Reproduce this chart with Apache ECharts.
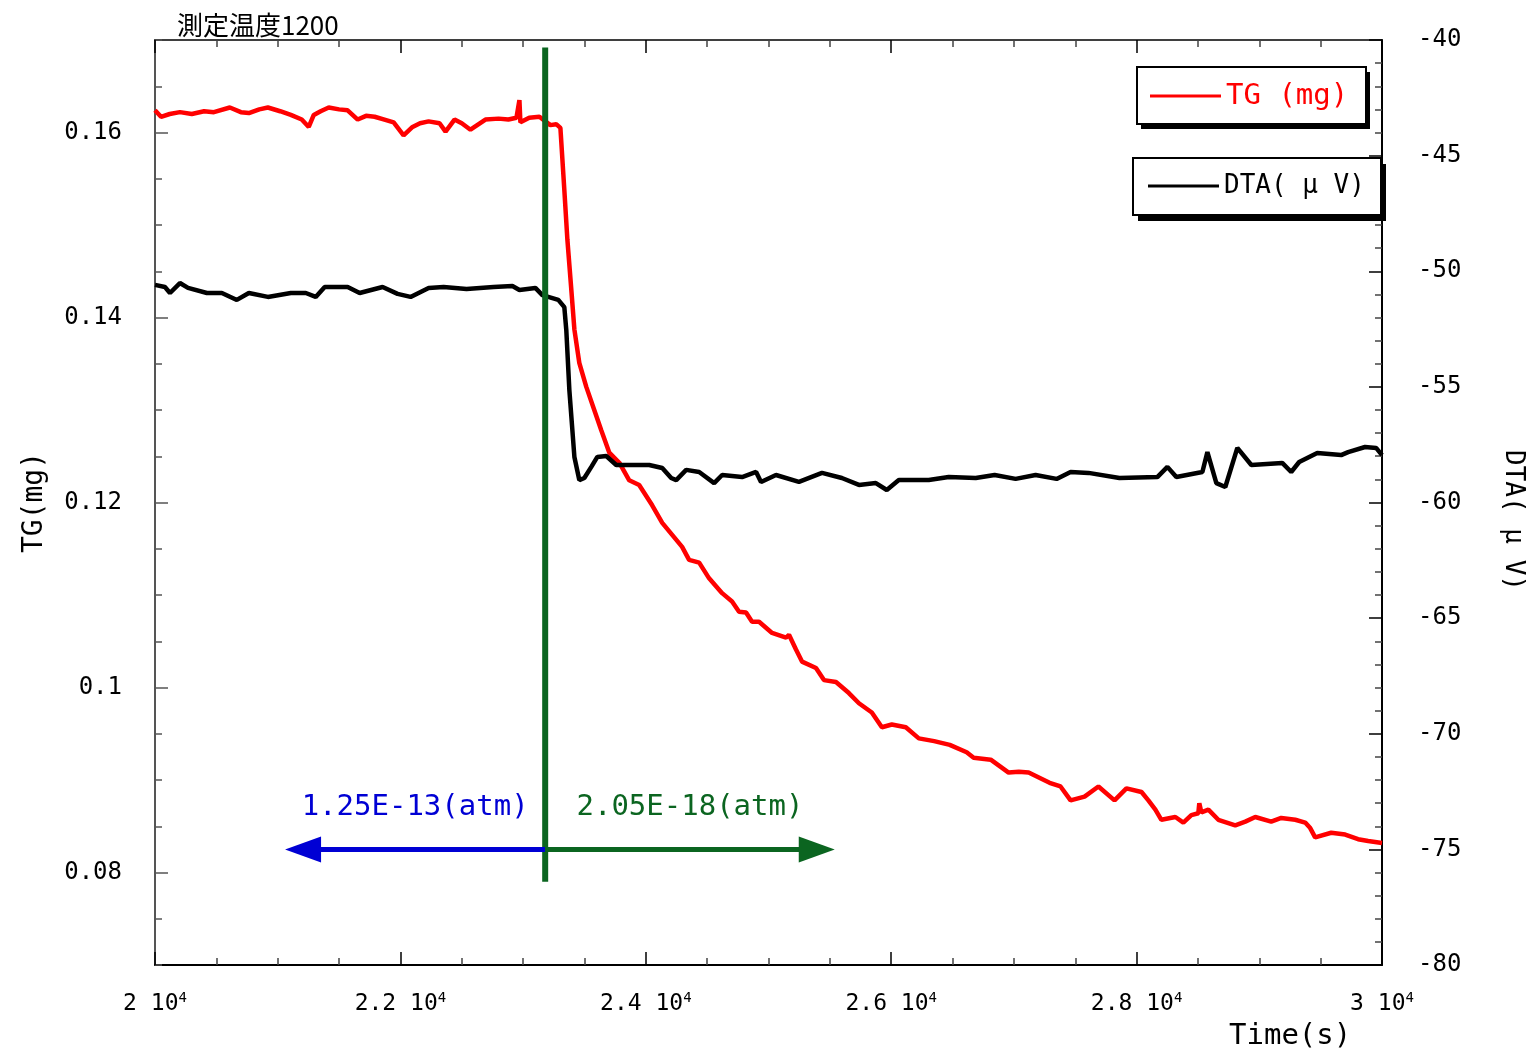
<!DOCTYPE html>
<html>
<head>
<meta charset="utf-8">
<script src="https://cdn.jsdelivr.net/npm/echarts@6/dist/echarts.min.js"></script>
<style>
  html, body { margin: 0; padding: 0; background: #ffffff; }
  #chart { width: 1534px; height: 1058px; }
</style>
</head>
<body>
<div id="chart"></div>
<script>
// ---- chart data ----
const chartTitle = '測定温度1200';
const timeAxisName = 'Time(s)';
const tgAxisName = 'TG(mg)';
const dtaAxisName = 'DTA( μ V)';
const tgSeriesName = 'TG (mg)';
const dtaSeriesName = 'DTA( μ V)';

const timeRange = [20000, 30000];
const timeStep = 2000;
const tgRange = [0.07, 0.17];
const tgTickValues = [0.08, 0.10, 0.12, 0.14, 0.16];
const tgMinorStep = 0.005;
const dtaRange = [-80, -40];
const dtaStep = 5;

// thermogravimetric signal: [time (s), mass (mg)]
const tgData = [
  [20000,0.1624],[20049,0.1617],[20120,0.1620],[20203,0.1622],[20300,0.1620],[20400,0.1623],
  [20480,0.1622],[20610,0.1627],[20700,0.1622],[20765,0.1621],[20850,0.1625],[20920,0.1627],
  [21020,0.1623],[21107,0.1619],[21196,0.1614],[21253,0.1606],[21294,0.1619],[21350,0.1623],
  [21416,0.1627],[21500,0.1625],[21570,0.1624],[21652,0.1614],[21720,0.1618],[21790,0.1617],
  [21870,0.1614],[21945,0.1611],[22026,0.1597],[22099,0.1606],[22160,0.1610],[22230,0.1612],
  [22319,0.1610],[22368,0.1601],[22441,0.1614],[22500,0.1610],[22571,0.1603],[22693,0.1614],
  [22800,0.1615],[22880,0.1614],[22946,0.1616],[22962,0.1616],[22970,0.1635],[22978,0.1611],
  [23050,0.1616],[23133,0.1617],[23222,0.1608],[23270,0.1609],[23304,0.1605],[23336,0.1538],
  [23361,0.1484],[23393,0.1430],[23418,0.1387],[23458,0.1351],[23515,0.1325],[23580,0.1300],
  [23637,0.1278],[23702,0.1254],[23784,0.1243],[23865,0.1224],[23946,0.1219],[24052,0.1197],
  [24134,0.1178],[24215,0.1165],[24296,0.1152],[24353,0.1138],[24435,0.1135],[24516,0.1118],
  [24622,0.1102],[24703,0.1093],[24760,0.1082],[24817,0.1081],[24866,0.1071],[24923,0.1071],
  [25029,0.1059],[25143,0.1054],[25167,0.1057],[25224,0.1041],[25273,0.1028],[25387,0.1021],
  [25452,0.1008],[25550,0.1006],[25655,0.0994],[25737,0.0983],[25842,0.0973],[25924,0.0957],
  [26005,0.0960],[26119,0.0957],[26225,0.0945],[26350,0.0942],[26477,0.0938],[26615,0.0930],
  [26672,0.0924],[26811,0.0922],[26957,0.0908],[27040,0.0909],[27120,0.0908],[27291,0.0897],
  [27380,0.0893],[27462,0.0878],[27576,0.0882],[27689,0.0893],[27820,0.0878],[27917,0.0891],
  [28040,0.0887],[28096,0.0878],[28153,0.0868],[28202,0.0857],[28316,0.0860],[28381,0.0854],
  [28446,0.0862],[28503,0.0864],[28511,0.0875],[28528,0.0865],[28585,0.0868],[28666,0.0857],
  [28804,0.0851],[28886,0.0855],[28967,0.0860],[29097,0.0855],[29179,0.0859],[29293,0.0857],
  [29374,0.0854],[29415,0.0848],[29455,0.0838],[29586,0.0843],[29700,0.0841],[29805,0.0836],
  [29887,0.0834],[30000,0.0832]
];

// differential thermal signal: [time (s), µV]
const dtaData = [
  [20000,-50.59],[20081,-50.68],[20122,-50.94],[20203,-50.51],[20269,-50.72],[20423,-50.94],
  [20545,-50.94],[20667,-51.24],[20765,-50.94],[20920,-51.11],[21107,-50.94],[21229,-50.94],
  [21310,-51.11],[21383,-50.68],[21570,-50.68],[21668,-50.94],[21855,-50.68],[21977,-50.98],
  [22083,-51.11],[22230,-50.72],[22352,-50.68],[22539,-50.77],[22759,-50.68],[22913,-50.64],
  [22970,-50.81],[23100,-50.72],[23157,-51.03],[23287,-51.24],[23336,-51.55],[23352,-52.54],
  [23377,-55.14],[23418,-58.03],[23458,-59.03],[23499,-58.94],[23556,-58.46],[23605,-58.03],
  [23678,-57.99],[23759,-58.38],[23865,-58.38],[24028,-58.38],[24134,-58.51],[24207,-58.94],
  [24248,-59.03],[24329,-58.59],[24435,-58.68],[24557,-59.16],[24622,-58.81],[24785,-58.90],
  [24899,-58.68],[24939,-59.11],[25061,-58.81],[25248,-59.11],[25436,-58.72],[25598,-58.94],
  [25737,-59.24],[25875,-59.16],[25964,-59.46],[26062,-59.03],[26306,-59.03],[26469,-58.90],
  [26689,-58.94],[26843,-58.81],[27014,-58.98],[27177,-58.81],[27348,-58.98],[27462,-58.68],
  [27608,-58.72],[27860,-58.94],[28169,-58.90],[28251,-58.46],[28324,-58.90],[28536,-58.68],
  [28577,-57.82],[28650,-59.16],[28723,-59.33],[28821,-57.64],[28935,-58.38],[29187,-58.29],
  [29260,-58.68],[29325,-58.25],[29472,-57.86],[29667,-57.95],[29724,-57.82],[29862,-57.60],
  [29952,-57.64],[30000,-57.95]
];

// atmosphere switch marker and the two oxygen partial pressures
const switchTime = 23180;
const switchSpanTG = [0.1692, 0.0790];
const arrowLevelTG = 0.0825;
const arrowTipTimes = [21060, 25540];
const pressureLabels = ['1.25E-13(atm)', '2.05E-18(atm)'];

// ---- styling ----
const MONO = '"DejaVu Sans Mono", "Liberation Mono", monospace';
const RED = '#ff0000';
const BLUE = '#0000d4';
const GREEN = '#0b6520';
const HEAD_LEN = 36;   // arrow head length in px
const HEAD_WIDTH = 26; // arrow head width in px

const chart = echarts.init(document.getElementById('chart'), null, { renderer: 'canvas' });

function shaftSeries(endTime, color) {
  return {
    type: 'line', xAxisIndex: 0, yAxisIndex: 0,
    silent: true, z: 6, showSymbol: false, symbol: 'none',
    lineStyle: { color: color, width: 5, cap: 'butt' },
    data: [[switchTime, arrowLevelTG], [endTime, arrowLevelTG]]
  };
}

function headSeries(tipTime, color, pointLeft) {
  return {
    type: 'scatter', xAxisIndex: 0, yAxisIndex: 0,
    silent: true, z: 7,
    symbol: 'triangle',
    symbolSize: [HEAD_WIDTH, HEAD_LEN],
    symbolRotate: pointLeft ? 90 : -90,
    symbolOffset: [pointLeft ? HEAD_LEN / 2 : -HEAD_LEN / 2, 0],
    itemStyle: { color: color, opacity: 1 },
    data: [[tipTime, arrowLevelTG]]
  };
}

function pressureLabelSeries(tipTime, text, color) {
  return {
    type: 'scatter', xAxisIndex: 0, yAxisIndex: 0,
    silent: true, z: 8,
    symbol: 'circle', symbolSize: 0,
    itemStyle: { color: color, opacity: 1 },
    label: {
      show: true, position: 'top', distance: 27,
      formatter: text,
      color: color, opacity: 1, fontFamily: MONO, fontSize: 29
    },
    data: [[(switchTime + tipTime) / 2, arrowLevelTG]]
  };
}

const tickCommon = {
  axisLine: { show: true, onZero: false, lineStyle: { color: '#000', width: 2 } },
  axisTick: { show: true, inside: true, length: 13, lineStyle: { color: '#000', width: 1.5 } },
  minorTick: { show: false },
  splitLine: { show: false }
};

// framed legend boxes with a solid offset shadow
function legendBox(x, y, w, h, dx, dy) {
  return [
    { type: 'rect', z: 1, shape: { x: x + dx, y: y + dy, width: w, height: h }, style: { fill: '#000' } },
    { type: 'rect', z: 2, shape: { x: x, y: y, width: w, height: h }, style: { fill: '#fff', stroke: '#000', lineWidth: 2 } }
  ];
}

const legendCommon = {
  orient: 'horizontal', selectedMode: false, z: 10,
  icon: 'rect', itemWidth: 71, itemHeight: 3, itemGap: 0, padding: 0
};

const option = {
  animation: false,
  backgroundColor: '#ffffff',
  grid: { left: 155, right: 150, top: 40, bottom: 93, containLabel: false },
  title: [
    {
      text: chartTitle, left: 172, top: 7,
      textStyle: { fontFamily: '"Noto Sans CJK JP", sans-serif', fontSize: 26, fontWeight: 'normal', color: '#000' }
    },
    {
      text: timeAxisName, left: 1224, top: 1017,
      textStyle: { fontFamily: MONO, fontSize: 29, fontWeight: 'normal', color: '#000' }
    }
  ],
  graphic: {
    elements: [].concat(
      legendBox(1137, 67, 229, 57, 4, 5),
      legendBox(1133, 158, 248, 57, 5, 6)
    )
  },
  legend: [
    Object.assign({}, legendCommon, {
      data: [tgSeriesName], left: 1150, top: 80,
      textStyle: { color: RED, fontFamily: MONO, fontSize: 29, lineHeight: 32 }
    }),
    Object.assign({}, legendCommon, {
      data: [dtaSeriesName], left: 1148, top: 170,
      textStyle: { color: '#000', fontFamily: MONO, fontSize: 26, lineHeight: 32 }
    })
  ],
  xAxis: [
    Object.assign({}, tickCommon, {
      type: 'value', position: 'bottom',
      min: timeRange[0], max: timeRange[1], interval: timeStep,
      minorTick: { show: true, splitNumber: 4, length: 7, lineStyle: { color: '#444', width: 1.5 } },
      axisLabel: {
        margin: 26,
        formatter: v => `{m|${+(v / 10000).toFixed(1)} }{b|10}{s|4}`,
        rich: {
          m: { fontFamily: MONO, fontSize: 23, color: '#000' },
          b: { fontFamily: MONO, fontSize: 23, color: '#000' },
          s: { fontFamily: MONO, fontSize: 14, color: '#000', padding: [0, 0, 12, 0] }
        }
      }
    }),
    Object.assign({}, tickCommon, {
      type: 'value', position: 'top',
      min: timeRange[0], max: timeRange[1], interval: timeStep,
      axisLine: { show: true, onZero: false, lineStyle: { color: '#000', width: 1.5 } },
      minorTick: { show: true, splitNumber: 4, length: 7, lineStyle: { color: '#444', width: 1.5 } },
      axisLabel: { show: false }
    })
  ],
  yAxis: [
    Object.assign({}, tickCommon, {
      type: 'value', position: 'left',
      min: tgRange[0], max: tgRange[1],
      axisLine: { show: true, onZero: false, lineStyle: { color: '#555', width: 2 } },
      axisTick: { show: true, inside: true, length: 13, customValues: tgTickValues, lineStyle: { color: '#555', width: 1.5 } },
      axisLabel: {
        customValues: tgTickValues, margin: 33,
        formatter: v => String(+(+v).toFixed(2)),
        fontFamily: MONO, fontSize: 24, color: '#000'
      },
      name: tgAxisName, nameLocation: 'middle', nameGap: 106, nameRotate: 90,
      nameTextStyle: { fontFamily: MONO, fontSize: 28, color: '#000' }
    }),
    Object.assign({}, tickCommon, {
      type: 'value', position: 'left',
      min: tgRange[0], max: tgRange[1], interval: tgMinorStep,
      axisLine: { show: false },
      axisTick: { show: true, inside: true, length: 7, lineStyle: { color: '#555', width: 1.5 } },
      axisLabel: { show: false }
    }),
    Object.assign({}, tickCommon, {
      type: 'value', position: 'right',
      min: dtaRange[0], max: dtaRange[1], interval: dtaStep,
      minorTick: { show: true, splitNumber: 5, length: 7, lineStyle: { color: '#444', width: 1.5 } },
      axisLabel: { margin: 36, fontFamily: MONO, fontSize: 24, color: '#000' },
      name: dtaAxisName, nameLocation: 'middle', nameGap: 118, nameRotate: -90,
      nameTextStyle: { fontFamily: MONO, fontSize: 26, color: '#000', padding: [0, 0, 0, 36] }
    })
  ],
  series: [
    {
      name: tgSeriesName, type: 'line',
      xAxisIndex: 0, yAxisIndex: 0,
      showSymbol: false, symbol: 'none', z: 3,
      lineStyle: { color: RED, width: 4.5 },
      itemStyle: { color: RED },
      data: tgData
    },
    {
      name: dtaSeriesName, type: 'line',
      xAxisIndex: 0, yAxisIndex: 2,
      showSymbol: false, symbol: 'none', z: 3,
      lineStyle: { color: '#000', width: 4.5 },
      itemStyle: { color: '#000' },
      data: dtaData
    },
    {
      type: 'line', xAxisIndex: 0, yAxisIndex: 0,
      silent: true, z: 5, showSymbol: false, symbol: 'none',
      lineStyle: { color: GREEN, width: 6, cap: 'butt' },
      data: switchSpanTG.map(v => [switchTime, v])
    },
    shaftSeries(arrowTipTimes[0], BLUE),
    shaftSeries(arrowTipTimes[1], GREEN),
    headSeries(arrowTipTimes[0], BLUE, true),
    headSeries(arrowTipTimes[1], GREEN, false),
    pressureLabelSeries(arrowTipTimes[0], pressureLabels[0], BLUE),
    pressureLabelSeries(arrowTipTimes[1], pressureLabels[1], GREEN)
  ]
};

chart.setOption(option);

// stop each shaft at the middle of its arrow head so the tip stays sharp
const finder = { xAxisIndex: 0, yAxisIndex: 0 };
const shaftEnds = arrowTipTimes.map((tip, i) => {
  const p = chart.convertToPixel(finder, [tip, arrowLevelTG]);
  const dir = i === 0 ? 1 : -1;
  return chart.convertFromPixel(finder, [p[0] + dir * HEAD_LEN / 2, p[1]])[0];
});
const updatedSeries = option.series.slice();
updatedSeries[3] = shaftSeries(shaftEnds[0], BLUE);
updatedSeries[4] = shaftSeries(shaftEnds[1], GREEN);
chart.setOption({ series: updatedSeries });
</script>
</body>
</html>
